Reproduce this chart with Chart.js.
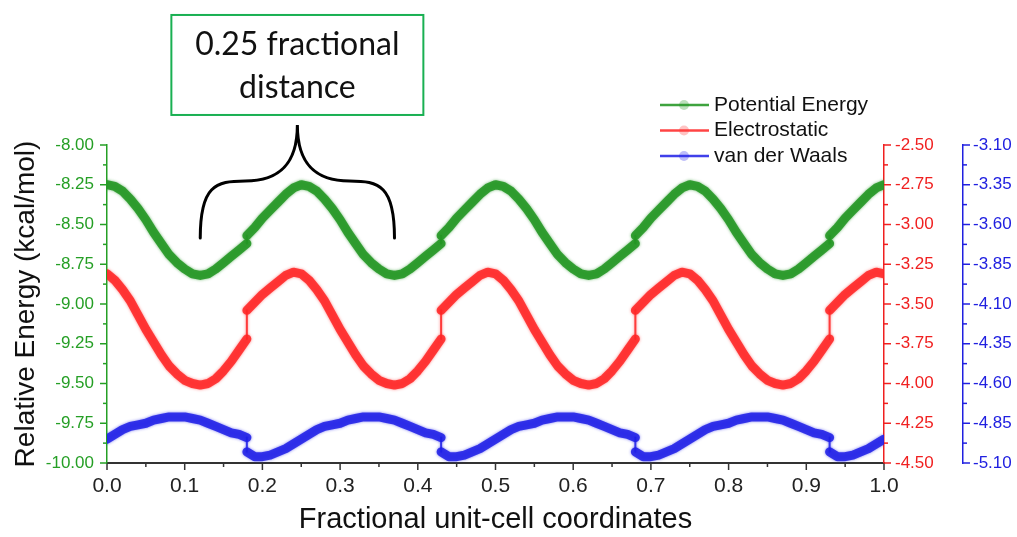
<!DOCTYPE html>
<html>
<head>
<meta charset="utf-8">
<title>Energy profile</title>
<script src="https://cdn.jsdelivr.net/npm/chart.js@4.4.0/dist/chart.umd.min.js"></script>
<style>
  html, body { margin: 0; padding: 0; background: #fff; }
  #wrap { position: relative; width: 1017px; height: 537px; }
</style>
</head>
<body>
<div id="wrap"><canvas id="energyChart"></canvas></div>
<script>
'use strict';

// fractional coordinate of each frame (the repeated x is the jump at each cell edge)
const xs = [
  0.00, 0.01, 0.02, 0.03, 0.04, 0.05, 0.06, 0.07, 0.08, 0.09, 0.10, 0.11, 0.12, 0.13, 0.14, 0.15, 0.16, 0.17, 0.18, 0.18, 0.19, 0.20, 0.21, 0.22, 0.23, 0.24,
  0.25, 0.26, 0.27, 0.28, 0.29, 0.30, 0.31, 0.32, 0.33, 0.34, 0.35, 0.36, 0.37, 0.38, 0.39, 0.40, 0.41, 0.42, 0.43, 0.43, 0.44, 0.45, 0.46, 0.47, 0.48, 0.49,
  0.50, 0.51, 0.52, 0.53, 0.54, 0.55, 0.56, 0.57, 0.58, 0.59, 0.60, 0.61, 0.62, 0.63, 0.64, 0.65, 0.66, 0.67, 0.68, 0.68, 0.69, 0.70, 0.71, 0.72, 0.73, 0.74,
  0.75, 0.76, 0.77, 0.78, 0.79, 0.80, 0.81, 0.82, 0.83, 0.84, 0.85, 0.86, 0.87, 0.88, 0.89, 0.90, 0.91, 0.92, 0.93, 0.93, 0.94, 0.95, 0.96, 0.97, 0.98, 0.99,
  1.00,
];

// kcal/mol, left axis
const potential = [
  -8.25, -8.26, -8.29, -8.34, -8.40, -8.47, -8.55, -8.62, -8.69, -8.74, -8.78, -8.81, -8.82, -8.81, -8.78, -8.74, -8.70, -8.66, -8.62, -8.57, -8.52, -8.46, -8.41, -8.36, -8.31, -8.27,
  -8.25, -8.26, -8.29, -8.34, -8.40, -8.47, -8.55, -8.62, -8.69, -8.74, -8.78, -8.81, -8.82, -8.81, -8.78, -8.74, -8.70, -8.66, -8.62, -8.57, -8.52, -8.46, -8.41, -8.36, -8.31, -8.27,
  -8.25, -8.26, -8.29, -8.34, -8.40, -8.47, -8.55, -8.62, -8.69, -8.74, -8.78, -8.81, -8.82, -8.81, -8.78, -8.74, -8.70, -8.66, -8.62, -8.57, -8.52, -8.46, -8.41, -8.36, -8.31, -8.27,
  -8.25, -8.26, -8.29, -8.34, -8.40, -8.47, -8.55, -8.62, -8.69, -8.74, -8.78, -8.81, -8.82, -8.81, -8.78, -8.74, -8.70, -8.66, -8.62, -8.57, -8.52, -8.46, -8.41, -8.36, -8.31, -8.27,
  -8.25,
];

// kcal/mol, red axis
const electrostatic = [
  -3.31, -3.35, -3.41, -3.48, -3.57, -3.66, -3.74, -3.82, -3.89, -3.94, -3.98, -4.00, -4.01, -4.00, -3.97, -3.92, -3.86, -3.79, -3.72, -3.54, -3.49, -3.44, -3.40, -3.36, -3.32, -3.30,
  -3.31, -3.35, -3.41, -3.48, -3.57, -3.66, -3.74, -3.82, -3.89, -3.94, -3.98, -4.00, -4.01, -4.00, -3.97, -3.92, -3.86, -3.79, -3.72, -3.54, -3.49, -3.44, -3.40, -3.36, -3.32, -3.30,
  -3.31, -3.35, -3.41, -3.48, -3.57, -3.66, -3.74, -3.82, -3.89, -3.94, -3.98, -4.00, -4.01, -4.00, -3.97, -3.92, -3.86, -3.79, -3.72, -3.54, -3.49, -3.44, -3.40, -3.36, -3.32, -3.30,
  -3.31, -3.35, -3.41, -3.48, -3.57, -3.66, -3.74, -3.82, -3.89, -3.94, -3.98, -4.00, -4.01, -4.00, -3.97, -3.92, -3.86, -3.79, -3.72, -3.54, -3.49, -3.44, -3.40, -3.36, -3.32, -3.30,
  -3.31,
];

// kcal/mol, blue axis
const vanDerWaals = [
  -4.95, -4.92, -4.89, -4.87, -4.86, -4.85, -4.83, -4.82, -4.81, -4.81, -4.81, -4.82, -4.83, -4.85, -4.87, -4.89, -4.91, -4.92, -4.94, -5.03, -5.06, -5.06, -5.05, -5.03, -5.01, -4.98,
  -4.95, -4.92, -4.89, -4.87, -4.86, -4.85, -4.83, -4.82, -4.81, -4.81, -4.81, -4.82, -4.83, -4.85, -4.87, -4.89, -4.91, -4.92, -4.94, -5.03, -5.06, -5.06, -5.05, -5.03, -5.01, -4.98,
  -4.95, -4.92, -4.89, -4.87, -4.86, -4.85, -4.83, -4.82, -4.81, -4.81, -4.81, -4.82, -4.83, -4.85, -4.87, -4.89, -4.91, -4.92, -4.94, -5.03, -5.06, -5.06, -5.05, -5.03, -5.01, -4.98,
  -4.95, -4.92, -4.89, -4.87, -4.86, -4.85, -4.83, -4.82, -4.81, -4.81, -4.81, -4.82, -4.83, -4.85, -4.87, -4.89, -4.91, -4.92, -4.94, -5.03, -5.06, -5.06, -5.05, -5.03, -5.01, -4.98,
  -4.95,
];

const leftRange  = [-10.0, -8.0];
const redRange   = [-4.5, -2.5];
const blueRange  = [-5.1, -3.1];

const GREEN = '#259f25';
const RED   = '#f02020';
const BLUE  = '#2020e0';
const FONT  = "'Liberation Sans', Arial, sans-serif";

Chart.defaults.font.family = FONT;

const isMajor = (v, base, step) => {
  const k = (v - base) / step;
  return Math.abs(k - Math.round(k)) < 1e-6;
};

// the one-frame hop at each cell edge is drawn as a thin connector
const thinJump = (ctx) => (ctx.p1.parsed.x - ctx.p0.parsed.x < 1e-6 ? 2 : undefined);

function series(label, values, axis, line, glow, dot) {
  return {
    label,
    data: xs.map((x, i) => ({ x, y: values[i] })),
    yAxisID: axis,
    borderColor: line,
    borderWidth: 9,
    borderCapStyle: 'round',
    borderJoinStyle: 'round',
    pointRadius: 0,
    tension: 0,
    segment: { borderWidth: thinJump },
    glow,
    dot,
  };
}

function yAxis(position, range, color, width, padding) {
  return {
    type: 'linear',
    position,
    min: range[0],
    max: range[1],
    afterFit: (s) => { s.width = width; },
    grid: { display: false, drawTicks: false, drawOnChartArea: false },
    border: { color, width: 1.5 },
    ticks: {
      stepSize: 0.125,
      autoSkip: false,
      padding,
      color,
      font: { size: 17 },
      callback(v) { return isMajor(v, this.min, 0.25) ? v.toFixed(2) : ''; },
    },
  };
}

// soft edge on the thick curves
const lineGlow = {
  id: 'lineGlow',
  beforeDatasetDraw(chart, args) {
    const ctx = chart.ctx;
    ctx.save();
    ctx.shadowColor = chart.data.datasets[args.index].glow;
    ctx.shadowBlur = 3;
  },
  afterDatasetDraw(chart) { chart.ctx.restore(); },
};

// major / minor tick marks on every axis
const tickMarks = {
  id: 'tickMarks',
  afterDraw(chart) {
    const ctx = chart.ctx;
    ctx.save();
    ctx.lineWidth = 1.5;
    Object.values(chart.scales).forEach((scale) => {
      ctx.strokeStyle = scale.options.border.color;
      scale.ticks.forEach((t) => {
        const len = t.label === '' ? 4 : 7;
        const p = scale.getPixelForValue(t.value);
        ctx.beginPath();
        if (scale.axis === 'x') {
          ctx.moveTo(p, scale.top); ctx.lineTo(p, scale.top + len);
        } else if (scale.position === 'left') {
          ctx.moveTo(scale.right, p); ctx.lineTo(scale.right - len, p);
        } else {
          ctx.moveTo(scale.left, p); ctx.lineTo(scale.left + len, p);
        }
        ctx.stroke();
      });
    });
    ctx.restore();
  },
};

const seriesLegend = {
  id: 'seriesLegend',
  afterDraw(chart) {
    const ctx = chart.ctx;
    ctx.save();
    ctx.font = `21px ${FONT}`;
    ctx.textBaseline = 'middle';
    chart.data.datasets.forEach((ds, i) => {
      const y = 105 + i * 25.5;
      ctx.strokeStyle = ds.borderColor;
      ctx.lineWidth = 2.5;
      ctx.beginPath(); ctx.moveTo(660, y); ctx.lineTo(709, y); ctx.stroke();
      ctx.fillStyle = ds.dot;
      ctx.beginPath(); ctx.arc(684, y, 5, 0, Math.PI * 2); ctx.fill();
      ctx.fillStyle = '#111';
      ctx.fillText(ds.label, 714, y);
    });
    ctx.restore();
  },
};

// brace over one period (minimum to minimum) with its caption box
const periodBrace = {
  id: 'periodBrace',
  afterDraw(chart) {
    const { ctx, scales: { x, y } } = chart;
    const xl = x.getPixelForValue(0.12);
    const xr = x.getPixelForValue(0.37);
    const xc = (xl + xr) / 2;
    const yb = y.getPixelForValue(-8.585);
    const ys = y.getPixelForValue(-8.226);
    const ya = y.getPixelForValue(-7.874);

    ctx.save();
    ctx.strokeStyle = '#000';
    ctx.lineWidth = 3;
    ctx.lineCap = 'round';
    ctx.beginPath();
    ctx.moveTo(xl, yb);
    ctx.bezierCurveTo(xl, ys + 5, xl + 15, ys, xl + 45, ys);
    ctx.bezierCurveTo(xc - 20, ys, xc, ys - 15, xc, ya);
    ctx.bezierCurveTo(xc, ys - 15, xc + 20, ys, xr - 45, ys);
    ctx.bezierCurveTo(xr - 15, ys, xr, ys + 5, xr, yb);
    ctx.stroke();

    const boxW = 252, boxH = 100;
    const top = ya - 10 - boxH;
    ctx.strokeStyle = '#19b052';
    ctx.lineWidth = 2;
    ctx.strokeRect(xc - boxW / 2, top, boxW, boxH);
    ctx.fillStyle = '#111';
    ctx.font = "32px Lato, 'Open Sans', sans-serif";
    ctx.textAlign = 'center';
    ctx.textBaseline = 'middle';
    ctx.fillText('0.25 fractional', xc, top + 30);
    ctx.fillText('distance', xc, top + 73);
    ctx.restore();
  },
};

new Chart(document.getElementById('energyChart'), {
  type: 'line',
  data: {
    datasets: [
      series('Potential Energy', potential, 'y', 'rgba(35,150,35,0.88)', 'rgba(35,150,35,0.7)', 'rgba(35,150,35,0.3)'),
      series('Electrostatic', electrostatic, 'yRed', 'rgba(255,35,35,0.85)', 'rgba(255,60,60,0.7)', 'rgba(255,60,60,0.3)'),
      series('van der Waals', vanDerWaals, 'yBlue', 'rgba(30,30,230,0.85)', 'rgba(40,40,235,0.7)', 'rgba(40,40,235,0.3)'),
    ],
  },
  options: {
    responsive: true,
    maintainAspectRatio: false,
    animation: false,
    layout: { padding: { top: 145, right: 0, bottom: 0, left: 0 } },
    plugins: {
      legend: { display: false },
      tooltip: { enabled: false },
    },
    scales: {
      x: {
        type: 'linear',
        min: 0,
        max: 1,
        afterFit: (s) => { s.height = 74; },
        grid: { display: false, drawTicks: false, drawOnChartArea: false },
        border: { color: '#333', width: 2 },
        ticks: {
          stepSize: 0.05,
          autoSkip: false,
          maxRotation: 0,
          padding: 11,
          color: '#222',
          font: { size: 21 },
          callback(v) { return isMajor(v, 0, 0.1) ? v.toFixed(1) : ''; },
        },
        title: {
          display: true,
          text: 'Fractional unit-cell coordinates',
          color: '#111',
          font: { size: 29 },
          padding: { top: 0, bottom: 0 },
        },
      },
      y: {
        ...yAxis('left', leftRange, GREEN, 107, 13),
        title: {
          display: true,
          text: 'Relative Energy (kcal/mol)',
          color: '#111',
          font: { size: 28 },
          padding: { top: 9, bottom: 0 },
        },
      },
      yRed: yAxis('right', redRange, RED, 79, 11),
      yBlue: yAxis('right', blueRange, BLUE, 54, 10),
    },
  },
  plugins: [lineGlow, tickMarks, seriesLegend, periodBrace],
});
</script>
</body>
</html>
